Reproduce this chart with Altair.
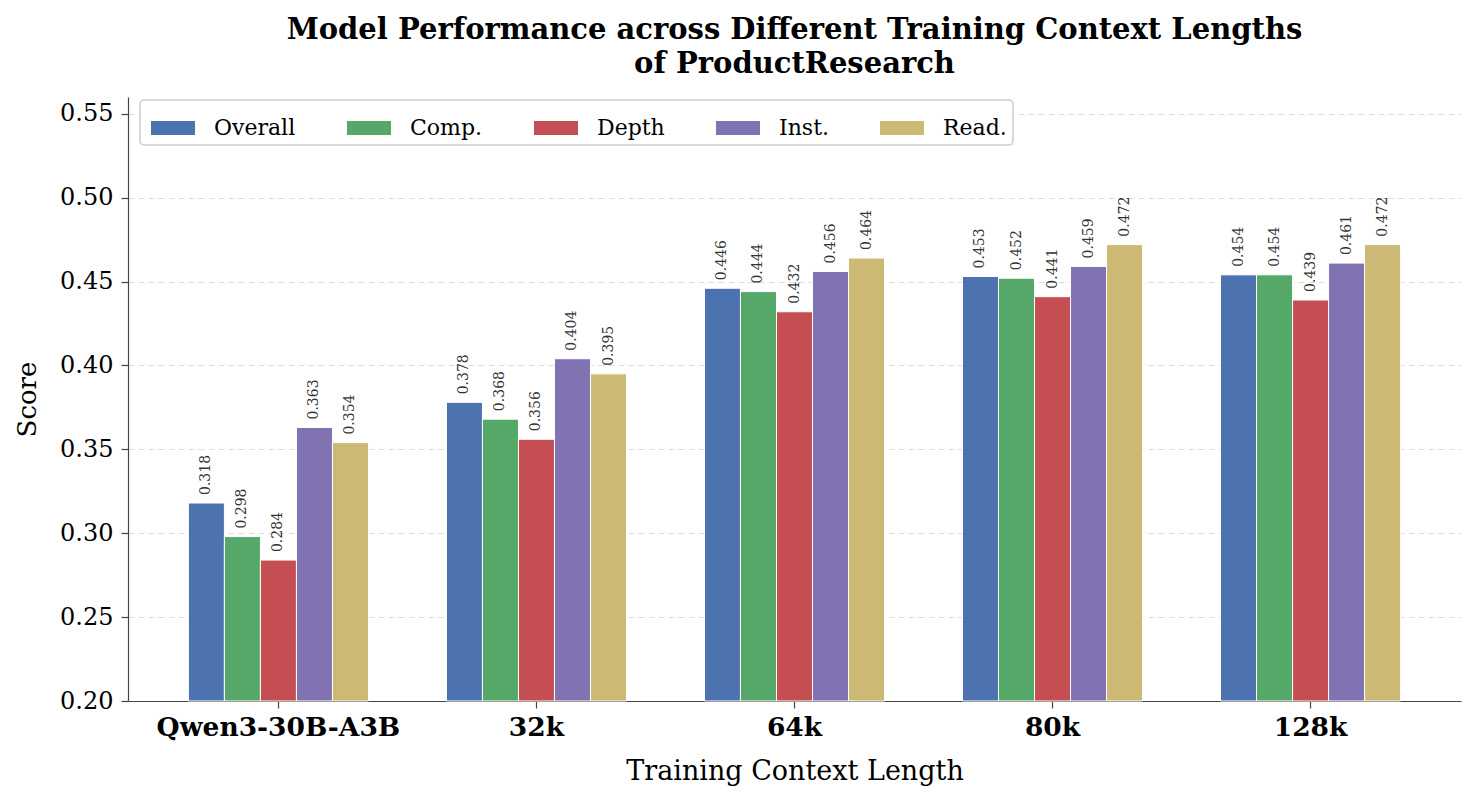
import altair as alt
import pandas as pd

groups = ["Qwen3-30B-A3B", "32k", "64k", "80k", "128k"]
metrics = ["Overall", "Comp.", "Depth", "Inst.", "Read."]
colors = ["#4C72B0", "#55A868", "#C44E52", "#8172B2", "#CCB974"]

overall = [0.318, 0.378, 0.446, 0.453, 0.454]
comp = [0.298, 0.368, 0.444, 0.452, 0.454]
depth = [0.284, 0.356, 0.432, 0.441, 0.439]
inst = [0.363, 0.404, 0.456, 0.459, 0.461]
read = [0.354, 0.395, 0.464, 0.472, 0.472]

series = [overall, comp, depth, inst, read]
rows = []
for m, vals in zip(metrics, series):
    for g, v in zip(groups, vals):
        rows.append({"group": g, "metric": m, "score": v})
df = pd.DataFrame(rows)

FONT = "DejaVu Serif"

x = alt.X("group:N", sort=groups, title="Training Context Length",
          scale=alt.Scale(paddingInner=0.302, paddingOuter=0.234),
          axis=alt.Axis(labelAngle=0, labelFontWeight="bold", labelFontSize=26.5,
                        labelFont=FONT, labelColor="black", labelLimit=1000,
                        titleFont=FONT,
                        titleFontSize=27, titleFontWeight="normal", titleColor="black",
                        titlePadding=18, labelPadding=6, tickSize=7, tickWidth=1.2,
                        tickColor="#444", domainColor="#444", domainWidth=1.2,
                        grid=False))
y = alt.Y("score:Q", title="Score",
          scale=alt.Scale(domain=[0.2, 0.56], zero=False, nice=False),
          axis=alt.Axis(values=[0.20, 0.25, 0.30, 0.35, 0.40, 0.45, 0.50, 0.55],
                        format=".2f", labelFont=FONT, labelFontSize=24,
                        labelColor="black", titleFont=FONT, titleFontSize=26,
                        titleFontWeight="normal", titleColor="black", titlePadding=19,
                        tickSize=7, tickWidth=1.2, tickColor="#444", domainColor="#444",
                        domainWidth=1.2,
                        grid=True, gridColor="#dddddd", gridDash=[6, 4],
                        gridWidth=1, labelPadding=8))
xo = alt.XOffset("metric:N", sort=metrics)

bars = alt.Chart(df).mark_bar(stroke="white", strokeWidth=1).encode(
    x=x, xOffset=xo, y=y, y2=alt.datum(0.2),
    color=alt.Color("metric:N", sort=metrics,
                    scale=alt.Scale(domain=metrics, range=colors),
                    legend=alt.Legend(title=None, orient="none", legendX=12, legendY=3,
                                      direction="horizontal",
                                      columns=5, columnPadding=46, labelFont=FONT,
                                      labelFontSize=22, labelColor="black",
                                      symbolType="M-1,-0.32H1V0.32H-1Z", symbolSize=1936,
                                      symbolStrokeWidth=0, labelOffset=19,
                                      symbolOffset=5,
                                      fillColor="white", strokeColor="#cccccc",
                                      cornerRadius=4, padding=6,
                                      symbolOpacity=1)),
)

labels = alt.Chart(df).mark_text(angle=270, align="left", baseline="middle",
                                 dx=8, font=FONT, fontSize=14, color="#333333").encode(
    x=x, xOffset=xo, y=y, text=alt.Text("score:Q", format=".3f"),
)

chart = alt.layer(bars, labels).properties(
    width=1333, height=604,
    title=alt.TitleParams(
        ["Model Performance across Different Training Context Lengths", "of ProductResearch"],
        font=FONT, fontSize=29, fontWeight="bold", color="black",
        anchor="middle", lineHeight=34, offset=18),
    padding={"left": 128, "top": 97, "right": 15, "bottom": 100},
    autosize=alt.AutoSizeParams(type="none"),
).configure_view(stroke=None).configure_legend(strokeWidth=1.5)

chart.save("out.html", embed_options={"renderer": "svg", "actions": False})
